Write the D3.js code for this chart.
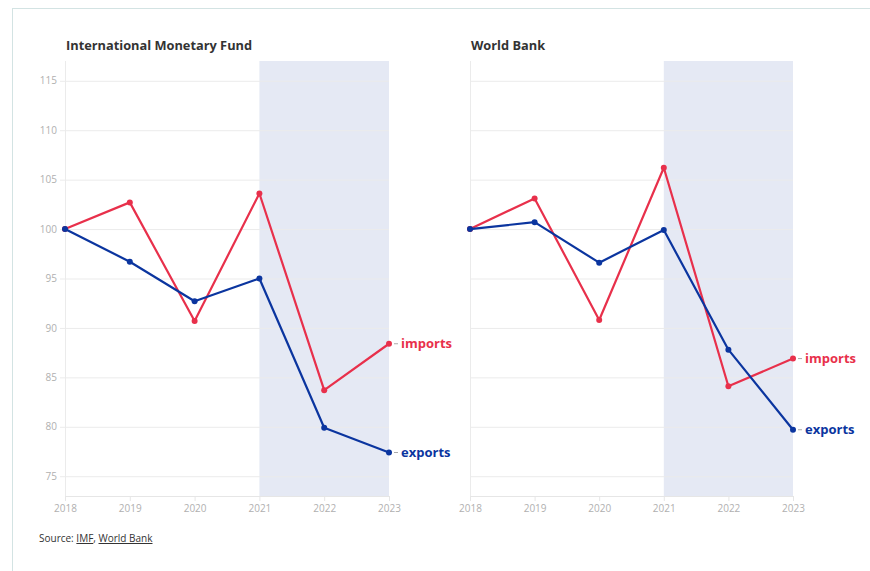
<!DOCTYPE html>
<html>
<head>
<meta charset="utf-8">
<script src="https://cdn.jsdelivr.net/npm/d3@7"></script>
<style>
  body { margin: 0; background: #fff; font-family: "Open Sans", sans-serif; }
  svg { display: block; }
</style>
</head>
<body>
<svg id="chart"></svg>
<script>
// Data
const years = [2018, 2019, 2020, 2021, 2022, 2023];
const yTicks = [75, 80, 85, 90, 95, 100, 105, 110, 115];
const imfImports = [100, 102.7, 90.7, 103.6, 83.7, 88.4];
const imfExports = [100, 96.7, 92.7, 95.0, 79.9, 77.4];
const wbImports = [100, 103.1, 90.8, 106.2, 84.1, 86.9];
const wbExports = [100, 100.7, 96.6, 99.9, 87.8, 79.7];
const shadedRange = [2021, 2023];

const panels = [
  { title: "International Monetary Fund", imports: imfImports, exports: imfExports, x0: 65, x1: 389, showY: true },
  { title: "World Bank", imports: wbImports, exports: wbExports, x0: 470, x1: 793, showY: false }
];

const W = 870, H = 571;
const plotTop = 61, plotBottom = 496;
const red = "#e8304b", blue = "#0b359f";

const svg = d3.select("#chart").attr("width", W).attr("height", H);

// outer frame lines
svg.append("line").attr("x1", 12).attr("x2", W).attr("y1", 8.5).attr("y2", 8.5)
  .attr("stroke", "#d3e3e3").attr("stroke-width", 1);
svg.append("line").attr("x1", 12.5).attr("x2", 12.5).attr("y1", 8).attr("y2", H)
  .attr("stroke", "#d3e3e3").attr("stroke-width", 1);

const y = d3.scaleLinear().domain([73, 117]).range([plotBottom, plotTop]);

panels.forEach(p => {
  const x = d3.scaleLinear().domain([2018, 2023]).range([p.x0, p.x1]);
  const g = svg.append("g");

  // title
  g.append("text")
    .attr("x", p.x0 + 1)
    .attr("y", 50)
    .style("font-size", "12.8px")
    .style("font-weight", "bold")
    .attr("fill", "#333")
    .text(p.title);

  // shaded forecast band
  g.append("rect")
    .attr("x", x(shadedRange[0]))
    .attr("y", plotTop)
    .attr("width", x(shadedRange[1]) - x(shadedRange[0]))
    .attr("height", plotBottom - plotTop)
    .attr("fill", "#e5e9f4");

  // grid lines
  const yAxis = d3.axisLeft(y)
    .tickValues(yTicks)
    .tickSize(p.showY ? -(p.x1 - p.x0) - 5 : -(p.x1 - p.x0))
    .tickFormat(p.showY ? d3.format("d") : "");
  const ya = g.append("g")
    .attr("transform", `translate(${p.showY ? p.x0 - 5 : p.x0},0)`)
    .call(yAxis);
  ya.select(".domain").remove();
  ya.selectAll(".tick line").attr("stroke", "#ebebeb");
  ya.selectAll(".tick text")
    .attr("fill", "#b0b0b0")
    .attr("x", -3)
    .style("font-family", "Open Sans")
    .style("font-size", "10px");

  // vertical axis line
  g.append("line")
    .attr("x1", p.x0 + 0.5).attr("x2", p.x0 + 0.5)
    .attr("y1", plotTop).attr("y2", plotBottom)
    .attr("stroke", "#ebebeb");

  // x axis
  const xAxis = d3.axisBottom(x)
    .tickValues(years)
    .tickFormat(d3.format("d"))
    .tickSize(5)
    .tickPadding(4);
  const xa = g.append("g")
    .attr("transform", `translate(0,${plotBottom})`)
    .call(xAxis);
  xa.select(".domain").attr("stroke", "#e6e6e6").attr("d", `M${p.x0},0.5H${p.x1}`);
  xa.selectAll(".tick line").attr("stroke", "#e6e6e6").attr("y2", 5);
  xa.selectAll(".tick text")
    .attr("fill", "#b0b0b0")
    .style("font-family", "Open Sans")
    .style("font-size", "10px");

  const line = d3.line().x((d, i) => x(years[i])).y(d => y(d));

  [["imports", p.imports, red], ["exports", p.exports, blue]].forEach(([name, vals, col]) => {
    g.append("path")
      .datum(vals)
      .attr("d", line)
      .attr("fill", "none")
      .attr("stroke", col)
      .attr("stroke-width", 2.2)
      .attr("stroke-linejoin", "round");

    g.selectAll(null)
      .data(vals)
      .enter()
      .append("circle")
      .attr("cx", (d, i) => x(years[i]))
      .attr("cy", d => y(d))
      .attr("r", 3)
      .attr("fill", col);

    const last = vals[vals.length - 1];
    g.append("line")
      .attr("x1", x(2023) + 5).attr("x2", x(2023) + 9)
      .attr("y1", y(last)).attr("y2", y(last))
      .attr("stroke", "#aaa");
    g.append("text")
      .attr("x", x(2023) + 12)
      .attr("y", y(last))
      .attr("dy", "0.35em")
      .attr("fill", col)
      .style("font-size", "13px")
      .style("font-weight", "bold")
      .text(name);
  });
});

// source line
const src = svg.append("text")
  .attr("x", 39)
  .attr("y", 542)
  .attr("fill", "#333")
  .style("font-size", "10px");
src.append("tspan").text("Source: ");
src.append("tspan").attr("text-decoration", "underline").text("IMF");
src.append("tspan").text(", ");
src.append("tspan").attr("text-decoration", "underline").text("World Bank");
</script>
</body>
</html>
